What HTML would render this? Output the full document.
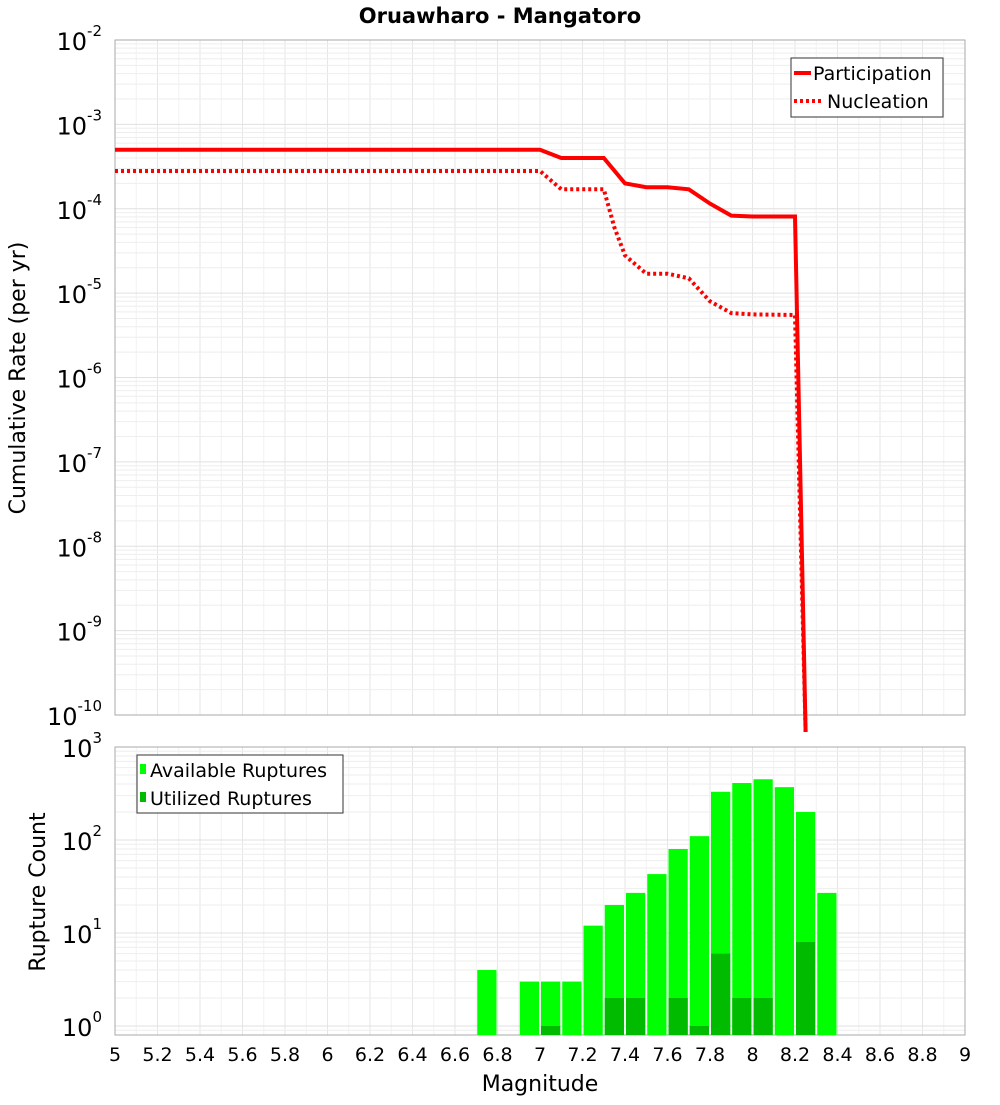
<!DOCTYPE html>
<html><head><meta charset="utf-8"><style>
body{margin:0;background:#fff;font-family:"Liberation Sans","DejaVu Sans",sans-serif}
text{font-family:"DejaVu Sans","Liberation Sans",sans-serif}
</style></head><body>
<svg id="c" width="1000" height="1100" xmlns="http://www.w3.org/2000/svg"></svg>
<script>
const partM=[5,7.0,7.1,7.3,7.4,7.5,7.6,7.7,7.8,7.9,8.0,8.2,8.25];
const partV=[5e-4,5e-4,4e-4,4e-4,2e-4,1.8e-4,1.8e-4,1.7e-4,1.15e-4,8.3e-5,8.1e-5,8.1e-5,1e-11];
const nucM=[5,7.0,7.1,7.3,7.35,7.4,7.5,7.6,7.7,7.8,7.9,8.0,8.2,8.25];
const nucV=[2.8e-4,2.8e-4,1.7e-4,1.7e-4,6e-5,2.8e-5,1.7e-5,1.7e-5,1.5e-5,8e-6,5.8e-6,5.6e-6,5.5e-6,1e-11];
const binM=[6.7,6.9,7.0,7.1,7.2,7.3,7.4,7.5,7.6,7.7,7.8,7.9,8.0,8.1,8.2,8.3];
const availV=[4,3,3,3,12,20,27,43,80,110,330,410,450,370,200,27];
const utilM=[7.0,7.3,7.4,7.6,7.7,7.8,7.9,8.0,8.2];
const utilV=[1,2,2,2,1,6,2,2,8];
const xTicks=[5,5.2,5.4,5.6,5.8,6,6.2,6.4,6.6,6.8,7,7.2,7.4,7.6,7.8,8,8.2,8.4,8.6,8.8,9];
const topExp=[-10,-9,-8,-7,-6,-5,-4,-3,-2];
const botExp=[0,1,2,3];
const svg=document.getElementById('c');const NS='http://www.w3.org/2000/svg';
function el(t,a,p){const e=document.createElementNS(NS,t);for(const k in a)e.setAttribute(k,a[k]);(p||svg).appendChild(e);return e;}
const X0=115,X1=965;const x=m=>X0+(m-5)/4*(X1-X0);
const T0=40,T1=715;const yT=v=>{let l=Math.log10(v);l=Math.max(l,-10.2);return T0+(-2-l)/8*(T1-T0);};
const B0=747,B1=1035,BD=93;const yB=v=>B0+(3-Math.log10(v))*BD;
// title
let t=el('text',{x:500,y:23,'text-anchor':'middle','font-size':21,'font-weight':'bold'});t.textContent='Oruawharo - Mangatoro';

function grid(top,bot,yf,exps,minL,maxL,name){
 const g=el('g',{});
 for(let i=0;i<=40;i++){const xx=X0+i*(X1-X0)/40;el('line',{x1:xx,x2:xx,y1:top,y2:bot,stroke:i%2?'#f2f2f2':'#e6e6e6'},g);}
 for(let e=minL;e<maxL;e++)for(let k=1;k<10;k++){const yy=yf(k*Math.pow(10,e));if(yy<top||yy>bot)continue;el('line',{x1:X0,x2:X1,y1:yy,y2:yy,stroke:k==1?'#e0e0e0':'#eeeeee'},g);}
 el('rect',{x:X0,y:top,width:X1-X0,height:bot-top,fill:'none',stroke:'#aaa'},g);
 exps.forEach(e=>{const yy=yf(Math.pow(10,e));const tx=el('text',{x:X0-13,y:yy+10,'text-anchor':'end','font-size':24},svg);
  tx.innerHTML='10<tspan font-size="15" dy="-14">'+e+'</tspan>';});
}
grid(T0,T1,yT,topExp,-10,-2,'top');
grid(B0,B1,yB,botExp,-1,3,'bottom');
// lines
function line(ms,vs,dash,name){const d=ms.map((m,i)=>(i?'L':'M')+x(m).toFixed(1)+','+yT(vs[i]).toFixed(1)).join('');
 const p=el('path',{d:d,fill:'none',stroke:'#ff0000','stroke-width':4});if(dash)p.setAttribute('stroke-dasharray','3,3');
 }
line(nucM,nucV,true,'nucleation-line');
line(partM,partV,false,'participation-line');
// bars
const bw=(x(5.1)-x(5))-2;
binM.forEach((m,i)=>{const r=el('rect',{x:x(m)+1,y:yB(availV[i]),width:bw,height:B1-yB(availV[i]),fill:'#00ff00'});
 });
utilM.forEach((m,i)=>{const r=el('rect',{x:x(m)+1,y:yB(utilV[i]),width:bw,height:B1-yB(utilV[i]),fill:'#00bb00'});
 });
// x ticks
xTicks.forEach(m=>{const tx=el('text',{x:x(m),y:1061,'text-anchor':'middle','font-size':19});tx.textContent=String(m);
 });
t=el('text',{x:540,y:1091,'text-anchor':'middle','font-size':22});t.textContent='Magnitude';
t=el('text',{x:0,y:0,'text-anchor':'middle','font-size':22,transform:'translate(25,378) rotate(-90)'});t.textContent='Cumulative Rate (per yr)';
t=el('text',{x:0,y:0,'text-anchor':'middle','font-size':22,transform:'translate(45,892) rotate(-90)'});t.textContent='Rupture Count';
// legends
let g=el('g',{});
el('rect',{x:791,y:58,width:152,height:59,fill:'#fff',stroke:'#333'},g);
el('line',{x1:794,x2:811,y1:73,y2:73,stroke:'#f00','stroke-width':4},g);
el('line',{x1:794,x2:822,y1:101,y2:101,stroke:'#f00','stroke-width':4,'stroke-dasharray':'3,3'},g);
t=el('text',{x:813,y:80,'font-size':19},g);t.textContent='Participation';
t=el('text',{x:827,y:108,'font-size':19},g);t.textContent='Nucleation';
g=el('g',{});
el('rect',{x:137,y:755,width:206,height:58,fill:'#fff',stroke:'#333'},g);
el('rect',{x:140,y:764,width:6,height:10,fill:'#00ff00'},g);
el('rect',{x:140,y:792,width:6,height:10,fill:'#00bb00'},g);
t=el('text',{x:150,y:777,'font-size':19},g);t.textContent='Available Ruptures';
t=el('text',{x:150,y:805,'font-size':19},g);t.textContent='Utilized Ruptures';
</script>
</body></html>
